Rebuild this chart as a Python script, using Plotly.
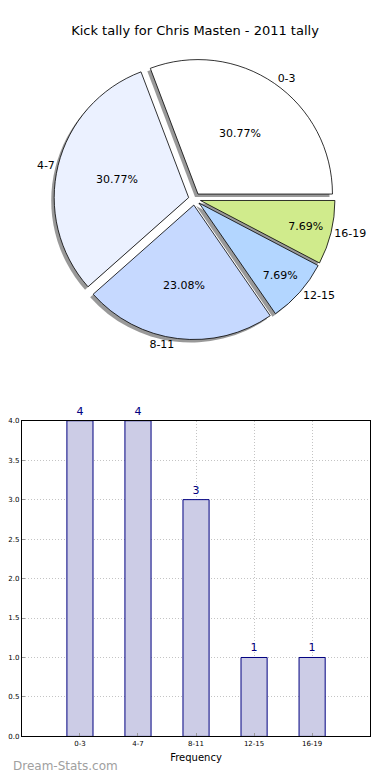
import plotly.graph_objects as go

categories = ["0-3", "4-7", "8-11", "12-15", "16-19"]
counts = [4, 4, 3, 1, 1]
pie_colors = ["#FFFFFF", "#EBF1FF", "#C6D9FF", "#B3D6FF", "#D0EB8C"]
y_ticks = [0, 0.5, 1, 1.5, 2, 2.5, 3, 3.5, 4]
title_text = "Kick tally for Chris Masten - 2011 tally"

# the page body has an 8px default margin; size the figure to fit the 390x780 window
OFF = 8
W, H = 390 - OFF, 780 - OFF
FONT = "DejaVu Sans"
pull = [0.045] * len(categories)

def px(x):
    return (x - OFF) / W

def py(y):
    return 1 - (y - OFF) / H

# first slice starts at 3 o'clock and runs counterclockwise
total = sum(counts)
rot = 90 - 360 * counts[0] / total

cx, cy, half = 193, 197, 142
def dom(dx=0, dy=0):
    return dict(x=[px(cx - half + dx), px(cx + half + dx)],
                y=[py(cy + half + dy), py(cy - half + dy)])

fig = go.Figure()

# shadow
fig.add_trace(go.Pie(
    labels=categories, values=counts, sort=False, direction="counterclockwise",
    rotation=rot, pull=pull, domain=dom(-3, 3),
    marker=dict(colors=["rgba(110,110,110,0.7)"] * 5, line=dict(width=0)),
    textinfo="none", hoverinfo="skip", showlegend=False))

# main pie with percentages
fig.add_trace(go.Pie(
    labels=categories, values=counts, sort=False, direction="counterclockwise",
    rotation=rot, pull=pull, domain=dom(),
    marker=dict(colors=pie_colors, line=dict(color="#000000", width=0.8)),
    texttemplate="%{percent:.2%}", textposition="inside", insidetextorientation="horizontal",
    textfont=dict(family=FONT, size=11, color="#000000"),
    showlegend=False))

# outside category labels
fig.add_trace(go.Pie(
    labels=categories, values=counts, sort=False, direction="counterclockwise",
    rotation=rot, pull=pull, domain=dom(),
    marker=dict(colors=["rgba(0,0,0,0)"] * 5, line=dict(width=0)),
    textinfo="label", textposition="outside",
    textfont=dict(family=FONT, size=11, color="#000000"),
    hoverinfo="skip", showlegend=False))

# bar chart
fig.add_trace(go.Bar(
    x=categories, y=counts, width=0.45,
    marker=dict(color="#CCCCE6", line=dict(color="#000080", width=1)),
    text=[str(c) for c in counts], textposition="outside", cliponaxis=False,
    textfont=dict(family=FONT, size=11, color="#000080"),
    showlegend=False))

grid = dict(showgrid=True, gridcolor="#C4C4C4", griddash="1px,2px", gridwidth=1)

fig.update_layout(
    width=W, height=H,
    margin=dict(l=0, r=0, t=0, b=0),
    paper_bgcolor="white", plot_bgcolor="white",
    font=dict(family=FONT, color="#000000"),
    title=dict(text=title_text, x=px(195), xanchor="center", y=py(30), yanchor="middle",
               font=dict(family=FONT, size=13, color="#000000")),
    xaxis=dict(domain=[px(19), px(370)], type="category", range=[-1, 5],
               showline=True, mirror=True, linecolor="#000000", linewidth=1,
               ticks="inside", ticklen=3, tickcolor="#999999",
               tickfont=dict(family=FONT, size=7, color="#000000"),
               title=dict(text="Frequency", font=dict(family=FONT, size=10), standoff=7),
               fixedrange=True, **grid),
    yaxis=dict(domain=[py(740), py(421)], range=[0, 4],
               tickvals=y_ticks, ticktext=[f"{v:.1f}" for v in y_ticks],
               showline=True, mirror=True, linecolor="#000000", linewidth=1,
               ticks="inside", ticklen=3, tickcolor="#999999",
               tickfont=dict(family=FONT, size=7, color="#000000"),
               zeroline=False, fixedrange=True, **grid),
    bargap=0.55,
    annotations=[dict(text="Dream-Stats.com", x=0, y=py(770), xref="paper", yref="paper",
                      xanchor="left", yanchor="middle", showarrow=False,
                      font=dict(family=FONT, size=12, color="#A0A0A0"))],
)

fig.write_html("out.html")
